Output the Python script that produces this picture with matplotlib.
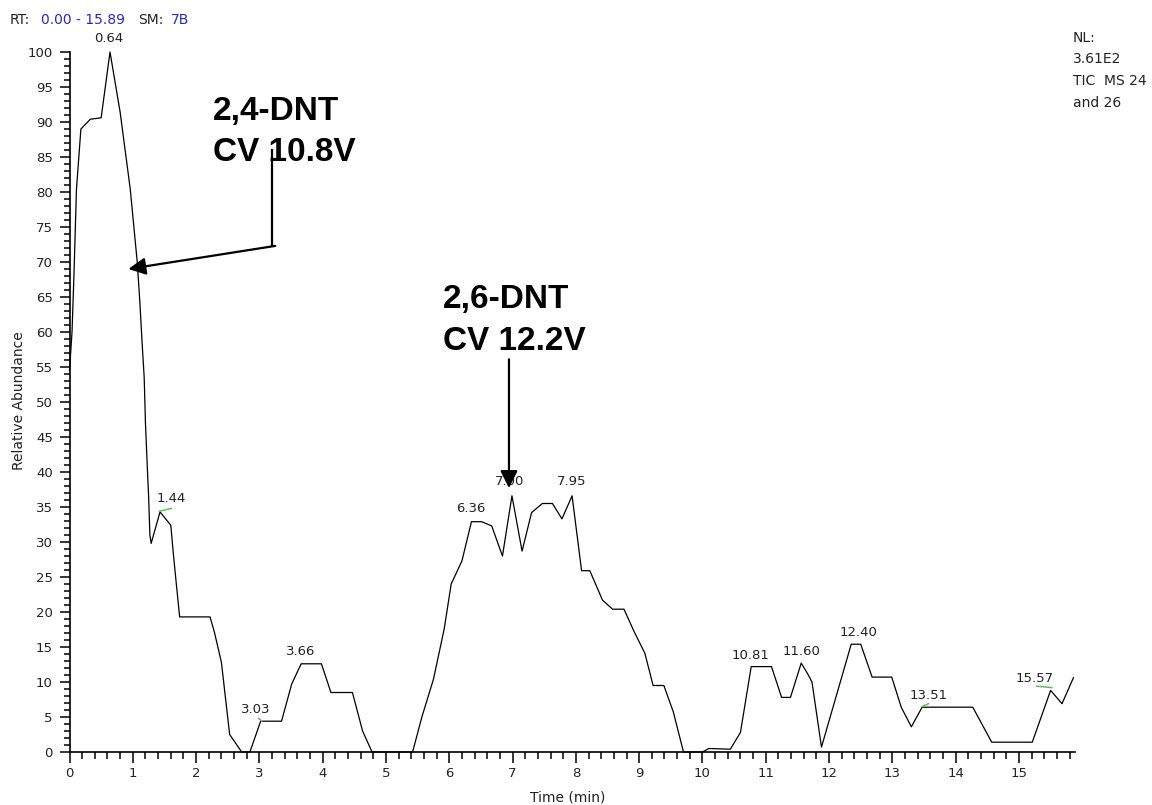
import matplotlib.pyplot as plt
from matplotlib.ticker import MultipleLocator

plt.rcParams['font.family'] = ['DejaVu Sans']

# chromatogram trace (time in min, relative abundance in %)
time_min = [0.00, 0.04, 0.07, 0.11, 0.18, 0.33, 0.50, 0.64, 0.80, 0.96,
            1.07, 1.11, 1.15, 1.18, 1.20, 1.23, 1.25, 1.27, 1.29, 1.43,
            1.60, 1.64, 1.68, 1.74, 2.22, 2.29, 2.40, 2.53, 2.72, 2.85,
            3.02, 3.35, 3.51, 3.66, 3.98, 4.13, 4.47, 4.63, 4.78, 5.42,
            5.57, 5.75, 5.92, 6.03, 6.20, 6.35, 6.51, 6.67, 6.84, 6.99,
            7.15, 7.30, 7.47, 7.63, 7.78, 7.94, 8.09, 8.22, 8.33, 8.42,
            8.58, 8.76, 8.92, 9.09, 9.22, 9.39, 9.54, 9.70, 10.00, 10.10,
            10.44, 10.60, 10.77, 11.09, 11.25, 11.39, 11.56, 11.66, 11.73, 11.88,
            12.35, 12.50, 12.68, 12.99, 13.14, 13.30, 13.47, 14.27, 14.57, 15.21,
            15.50, 15.68, 15.86]
abundance = [54.5, 60.0, 68.0, 80.4, 89.0, 90.4, 90.6, 100.0, 91.4, 80.4,
             70.0, 64.5, 58.0, 53.5, 47.0, 40.5, 36.5, 31.0, 29.8, 34.3,
             32.4, 28.4, 24.7, 19.3, 19.3, 17.1, 12.8, 2.5, 0.0, 0.0,
             4.4, 4.4, 9.7, 12.6, 12.6, 8.5, 8.5, 3.0, 0.0, 0.0,
             5.1, 10.4, 17.6, 24.0, 27.3, 32.9, 32.9, 32.3, 28.0, 36.6,
             28.7, 34.2, 35.5, 35.5, 33.3, 36.6, 25.9, 25.9, 23.6, 21.7,
             20.4, 20.4, 17.2, 14.1, 9.5, 9.5, 5.7, 0.0, 0.0, 0.5,
             0.4, 2.8, 12.2, 12.2, 7.8, 7.8, 12.7, 11.2, 10.0, 0.7,
             15.4, 15.4, 10.7, 10.7, 6.4, 3.6, 6.4, 6.4, 1.4, 1.4,
             8.8, 6.9, 10.6]

# peak labels and where they sit
peak_labels = ["0.64", "1.44", "3.03", "3.66", "6.36", "7.00", "7.95",
               "10.81", "11.60", "12.40", "13.51", "15.57"]
label_t = [0.62, 1.60, 2.95, 3.66, 6.34, 6.96, 7.93,
           10.76, 11.57, 12.47, 13.57, 15.25]
label_y = [101.0, 35.3, 5.1, 13.4, 33.9, 37.7, 37.7,
           12.9, 13.5, 16.2, 7.1, 9.6]

# small green marks under some labels
mark_t0 = [1.42, 2.99, 13.47, 15.28]
mark_t1 = [1.61, 3.04, 13.57, 15.52]
mark_y0 = [34.4, 4.8, 6.5, 9.4]
mark_y1 = [34.8, 4.4, 6.9, 9.2]

nl_lines = ["NL:", "3.61E2", "TIC  MS 24", "and 26"]

W, H = 1152, 805
fig = plt.figure(figsize=(W / 100, H / 100), dpi=100)
ax = fig.add_axes([69.5 / W, 1 - 752 / H, (1075.3 - 69.5) / W, 700 / H])

ax.plot(time_min, abundance, color='black', lw=0.9, clip_on=False)
for a, b, c, d in zip(mark_t0, mark_t1, mark_y0, mark_y1):
    ax.plot([a, b], [c, d], color='#5cbf5c', lw=1.1)

for txt, t, y in zip(peak_labels, label_t, label_y):
    ax.text(t, y, txt, ha='center', va='bottom', fontsize=9.5,
            color='#222222', clip_on=False)

ax.set_xlim(0, 15.89)
ax.set_ylim(0, 100)
for s in ['top', 'right']:
    ax.spines[s].set_visible(False)
for s in ['left', 'bottom']:
    ax.spines[s].set_linewidth(1.2)

ax.xaxis.set_major_locator(MultipleLocator(1))
ax.xaxis.set_minor_locator(MultipleLocator(0.2))
ax.yaxis.set_major_locator(MultipleLocator(5))
ax.yaxis.set_minor_locator(MultipleLocator(1))
ax.tick_params(axis='x', which='major', length=8, width=1.1, pad=3,
               labelsize=9.5, labelcolor='#222222')
ax.tick_params(axis='x', which='minor', length=5, width=1.1)
ax.tick_params(axis='y', which='major', length=7, width=1.1, pad=5,
               labelsize=9.5, labelcolor='#222222')
ax.tick_params(axis='y', which='minor', length=4.3, width=1.1)

# compound annotations
bold = dict(fontsize=24, fontweight='bold', family=['Liberation Sans', 'DejaVu Sans'],
            ha='left', va='baseline')
ax.text(2.27, 90.3, "2,4-DNT", **bold)
ax.text(2.27, 84.4, "CV 10.8V", **bold)
ax.text(5.905, 63.4, "2,6-DNT", **bold)
ax.text(5.905, 57.4, "CV 12.2V", **bold)

ax.plot([3.194, 3.194], [86.0, 72.4], color='black', lw=1.6)
arrow = dict(arrowstyle='-|>', color='black', lw=1.6, mutation_scale=26,
             shrinkA=0, shrinkB=0)
ax.annotate('', xy=(0.93, 69.0), xytext=(3.25, 72.3), arrowprops=arrow)
ax.annotate('', xy=(6.943, 37.7), xytext=(6.943, 56.1), arrowprops=arrow)

# header and side texts
def px(x, y):
    return x / W, 1 - y / H

blue = '#2a2ab8'
fig.text(*px(10, 20.5), "RT:", fontsize=10, va='center', color='#222222')
fig.text(*px(41, 20.5), "0.00 - 15.89", fontsize=10, va='center', color=blue)
fig.text(*px(138, 20.5), "SM:", fontsize=10, va='center', color='#222222')
fig.text(*px(171, 20.5), "7B", fontsize=10, va='center', color=blue)

for i, line in enumerate(nl_lines):
    fig.text(*px(1073, 37.5 + 21.7 * i), line, fontsize=10, va='center',
             color='#222222')

fig.text(*px(19.5, 400.5), "Relative Abundance", rotation=90, fontsize=10,
         ha='center', va='center', color='#222222')
fig.text(*px(567.7, 797), "Time (min)", fontsize=10, ha='center', va='center',
         color='#222222')

fig.savefig('out.png', dpi=100, facecolor='white')
